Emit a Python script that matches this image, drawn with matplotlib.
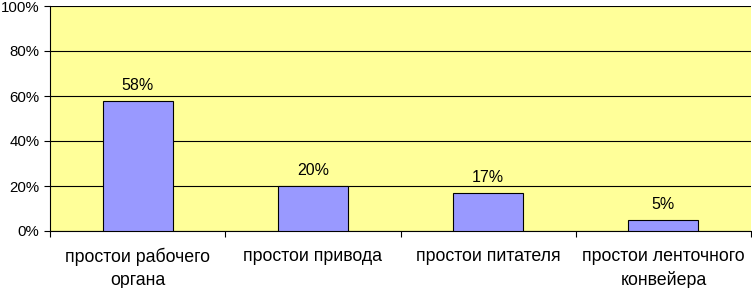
import matplotlib.pyplot as plt
from matplotlib.ticker import FixedLocator, PercentFormatter

categories = ["простои рабочего\nоргана", "простои привода",
              "простои питателя", "простои ленточного\nконвейера"]
values = [58, 20, 17, 5]
y_ticks = [0, 20, 40, 60, 80, 100]

plt.rcParams['font.family'] = ['Liberation Sans', 'DejaVu Sans']

fig = plt.figure(figsize=(7.52, 2.88), dpi=100)
ax = fig.add_axes([50 / 752, 57 / 288, 701 / 752, 225 / 288])
ax.set_facecolor('#FFFF99')

x = range(len(categories))
ax.bar(x, values, width=0.4, color='#9999FF', edgecolor='black',
       linewidth=0.8, zorder=3)
for i, v in enumerate(values):
    ax.text(i, v + 3.5, f"{v}%", ha='center', va='bottom', fontsize=11.5)

ax.set_xlim(-0.5, len(categories) - 0.5)
ax.set_ylim(0, 100)
ax.set_yticks(y_ticks)
ax.yaxis.set_major_formatter(PercentFormatter(decimals=0))
ax.grid(axis='y', color='black', linewidth=0.8, zorder=1)

ax.set_xticks(list(x))
ax.set_xticklabels(categories, fontsize=12.8, linespacing=1.45)
ax.tick_params(axis='x', which='major', length=0, pad=12)
ax.xaxis.set_minor_locator(FixedLocator([-0.5, 0.5, 1.5, 2.5, 3.5]))
ax.tick_params(axis='x', which='minor', length=4, width=0.8, direction='out')
ax.tick_params(axis='y', length=4, width=0.8, labelsize=10.8)

for side in ['top', 'right']:
    ax.spines[side].set_visible(False)
ax.spines['left'].set_linewidth(0.8)
ax.spines['bottom'].set_linewidth(0.8)

fig.savefig("out.png", dpi=100)
